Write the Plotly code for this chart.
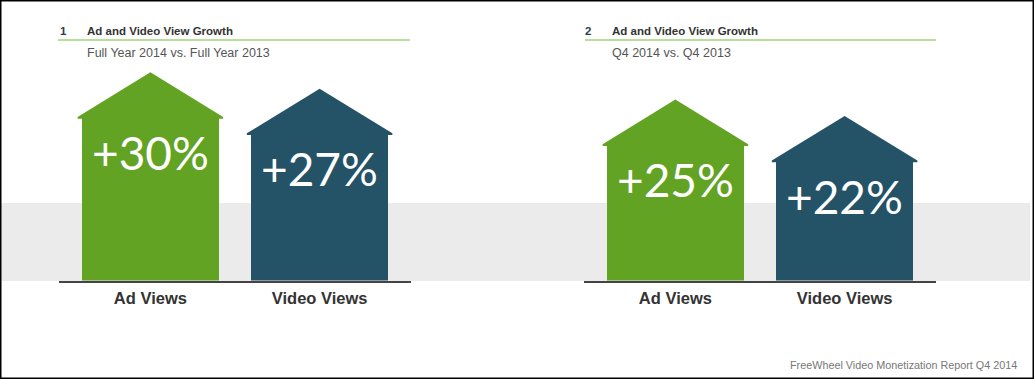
import plotly.graph_objects as go

# ---------------- data ----------------
categories = ["Ad Views", "Video Views"]
full_year_growth = [30, 27]      # % growth, Full Year 2014 vs. 2013
q4_growth = [25, 22]             # % growth, Q4 2014 vs. Q4 2013
panel_numbers = ["1", "2"]
panel_titles = ["Ad and Video View Growth", "Ad and Video View Growth"]
panel_subtitles = ["Full Year 2014 vs. Full Year 2013", "Q4 2014 vs. Q4 2013"]
footer_text = "FreeWheel Video Monetization Report Q4 2014"

# ---------------- style ----------------
W, H = 1034, 379
GREEN = "#62a324"
BLUE = "#245266"
bar_colors = [GREEN, BLUE]
BASE_PX = 280.5          # baseline pixel row
PX_PER_UNIT = 5.45
ROOF_UNITS = 8.2
ROOF_OVERLAP = 0.3
BAR_W = 0.81
ROOF_HALF = 0.43
XR = [-0.54, 1.54]

def px2paper_y(py):
    return 1 - py / H

def px2paper_x(px):
    return px / W

fig = go.Figure()

panels = [
    dict(vals=full_year_growth, xa="x", ya="y", dom=(59, 411)),
    dict(vals=q4_growth, xa="x2", ya="y2", dom=(584, 936)),
]

xpos = list(range(len(categories)))
annotations = []
for p_i, p in enumerate(panels):
    vals = p["vals"]
    fig.add_trace(go.Bar(
        x=xpos, y=vals, width=BAR_W,
        marker=dict(color=bar_colors, line=dict(width=0)),
        xaxis=p["xa"], yaxis=p["ya"], showlegend=False, hoverinfo="skip",
    ))
    for i, v in enumerate(vals):
        fig.add_trace(go.Scatter(
            x=[i - ROOF_HALF, i - ROOF_HALF, i, i + ROOF_HALF, i + ROOF_HALF, i - ROOF_HALF],
            y=[v - ROOF_OVERLAP, v, v + ROOF_UNITS, v, v - ROOF_OVERLAP, v - ROOF_OVERLAP],
            fill="toself", fillcolor=bar_colors[i], mode="lines",
            line=dict(width=0, color=bar_colors[i]),
            xaxis=p["xa"], yaxis=p["ya"], showlegend=False, hoverinfo="skip",
        ))
        annotations.append(dict(
            x=i, y=v, xref=p["xa"], yref=p["ya"], text=f"+{v}%",
            showarrow=False, yanchor="top", yshift=-6,
            font=dict(family="Lato", size=46, color="white", weight=400),
        ))
    x0, x1 = p["dom"]
    # titles
    annotations.append(dict(
        x=px2paper_x(x0 - 1), y=px2paper_y(31), xref="paper", yref="paper",
        text=f"<b>{panel_numbers[p_i]}</b>", showarrow=False,
        xanchor="left", yanchor="middle",
        font=dict(family="Liberation Sans", size=11.5, color="#2c3e4a"),
    ))
    annotations.append(dict(
        x=px2paper_x(x0 + 26), y=px2paper_y(31), xref="paper", yref="paper",
        text=f"<b>{panel_titles[p_i]}</b>", showarrow=False,
        xanchor="left", yanchor="middle",
        font=dict(family="Liberation Sans", size=11.5, color="#333333"),
    ))
    annotations.append(dict(
        x=px2paper_x(x0 + 26), y=px2paper_y(53), xref="paper", yref="paper",
        text=panel_subtitles[p_i], showarrow=False,
        xanchor="left", yanchor="middle",
        font=dict(family="Liberation Sans", size=12.5, color="#555555"),
    ))

annotations.append(dict(
    x=px2paper_x(1019), y=px2paper_y(365), xref="paper", yref="paper",
    text=footer_text, showarrow=False, xanchor="right", yanchor="middle",
    font=dict(family="Liberation Sans", size=10.8, color="#777777"),
))

shapes = [
    # gray band
    dict(type="rect", xref="paper", yref="paper",
         x0=0, x1=px2paper_x(1030), y0=px2paper_y(281), y1=px2paper_y(203),
         fillcolor="#ebebeb", line=dict(width=0), layer="below"),
    # title underlines
    dict(type="line", xref="paper", yref="paper",
         x0=px2paper_x(58), x1=px2paper_x(410), y0=px2paper_y(40), y1=px2paper_y(40),
         line=dict(color="#9fd37a", width=1.5)),
    dict(type="line", xref="paper", yref="paper",
         x0=px2paper_x(585), x1=px2paper_x(936), y0=px2paper_y(40), y1=px2paper_y(40),
         line=dict(color="#9fd37a", width=1.5)),
    # outer border
    dict(type="rect", xref="paper", yref="paper", x0=0, x1=1, y0=0, y1=1,
         line=dict(color="black", width=3), fillcolor="rgba(0,0,0,0)"),
]

ydom = [px2paper_y(BASE_PX), 1]
yrange = [0, BASE_PX / PX_PER_UNIT]

xcommon = dict(range=XR, tickvals=xpos, ticktext=categories, showgrid=False,
               zeroline=False, showline=True, linecolor="#444444", linewidth=2,
               ticks="", ticklabelstandoff=2, fixedrange=True,
               tickfont=dict(family="Liberation Sans", size=16.5, color="#333333", weight="bold"))
ycommon = dict(range=yrange, domain=ydom, visible=False, showgrid=False,
               zeroline=False, fixedrange=True)

fig.update_layout(
    width=W, height=H, margin=dict(l=0, r=0, t=0, b=0),
    paper_bgcolor="white", plot_bgcolor="rgba(0,0,0,0)",
    xaxis=dict(domain=[px2paper_x(59), px2paper_x(411)], anchor="y", **xcommon),
    xaxis2=dict(domain=[px2paper_x(584), px2paper_x(936)], anchor="y2", **xcommon),
    yaxis=dict(anchor="x", **ycommon),
    yaxis2=dict(anchor="x2", **ycommon),
    shapes=shapes, annotations=annotations, bargap=0,
)

fig.write_html(
    "out.html",
    config={"displayModeBar": False},
    post_script="document.body.style.margin='0px';document.body.style.overflow='hidden';",
)
